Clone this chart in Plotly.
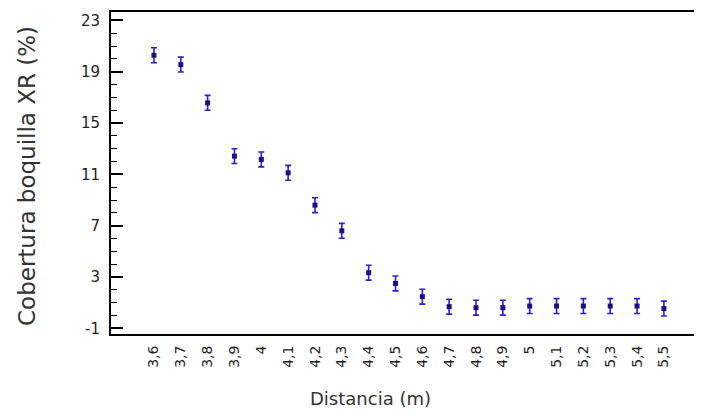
import plotly.graph_objects as go

categories = ["3,6", "3,7", "3,8", "3,9", "4", "4,1", "4,2", "4,3", "4,4", "4,5",
              "4,6", "4,7", "4,8", "4,9", "5", "5,1", "5,2", "5,3", "5,4", "5,5"]
cobertura = [20.28, 19.55, 16.57, 12.42, 12.16, 11.12, 8.6, 6.6, 3.34, 2.5,
             1.47, 0.69, 0.61, 0.61, 0.74, 0.74, 0.74, 0.74, 0.74, 0.54]
error_half = [0.58] * len(categories)
y_ticks = [-1, 3, 7, 11, 15, 19, 23]
y_tick_labels = ["-1", "3", "7", "11", "15", "19", "23"]

FONT = "DejaVu Sans"
y_range = [-1.44, 23.65]

fig = go.Figure()
fig.add_trace(go.Scatter(
    x=categories, y=cobertura, mode="markers",
    marker=dict(symbol="square", size=5, color="#1c0f86"),
    error_y=dict(type="data", array=error_half, visible=True,
                 color="#2a1fd6", thickness=1.6, width=3),
    showlegend=False,
))
# invisible trace to carry the mirrored right-side ticks
fig.add_trace(go.Scatter(
    x=categories, y=cobertura, mode="markers", yaxis="y2",
    marker=dict(opacity=0), hoverinfo="skip", showlegend=False,
))

# page body has an 8px margin; figure sized so the plot lands where the reference has it
fig.update_layout(
    width=694, height=408,
    margin=dict(l=103, r=0, t=4, b=82),
    paper_bgcolor="white", plot_bgcolor="white",
    font=dict(family=FONT, color="#333333"),
    xaxis=dict(
        type="category", range=[-1.6, 20.42], automargin=False,
        showline=True, linecolor="black", linewidth=2, mirror=True,
        showgrid=False, zeroline=False, ticks="",
        tickangle=-90, tickfont=dict(family=FONT, size=14, color="#222222"),
        ticklabelstandoff=4,
    ),
    yaxis=dict(
        range=y_range, tickvals=y_ticks, ticktext=y_tick_labels, automargin=False,
        showline=True, linecolor="black", linewidth=2, mirror=False,
        showgrid=False, zeroline=False,
        ticks="inside", ticklen=12, tickwidth=1.5, tickcolor="black",
        minor=dict(dtick=1, tick0=-1, ticks="inside", ticklen=6, tickwidth=1.2, tickcolor="black", showgrid=False),
        tickfont=dict(family=FONT, size=15, color="#222222"),
        ticklabelstandoff=6,
    ),
    yaxis2=dict(
        overlaying="y", side="right", range=y_range, tickvals=y_ticks, automargin=False,
        showline=False, showgrid=False, zeroline=False,
        ticks="inside", ticklen=5, tickwidth=1.5, tickcolor="black",
        showticklabels=False,
    ),
    annotations=[
        dict(text="Distancia (m)", xref="paper", yref="paper",
             x=(370 - 111) / 591, y=-(399 - 334) / 322,
             xanchor="center", yanchor="middle", showarrow=False,
             font=dict(family=FONT, size=18, color="#333333")),
        dict(text="Cobertura boquilla XR (%)", xref="paper", yref="paper",
             x=(27 - 111) / 591, y=1 - (176 - 12) / 322, textangle=-90,
             xanchor="center", yanchor="middle", showarrow=False,
             font=dict(family=FONT, size=23, color="#333333")),
    ],
)

fig.write_html("out.html")
